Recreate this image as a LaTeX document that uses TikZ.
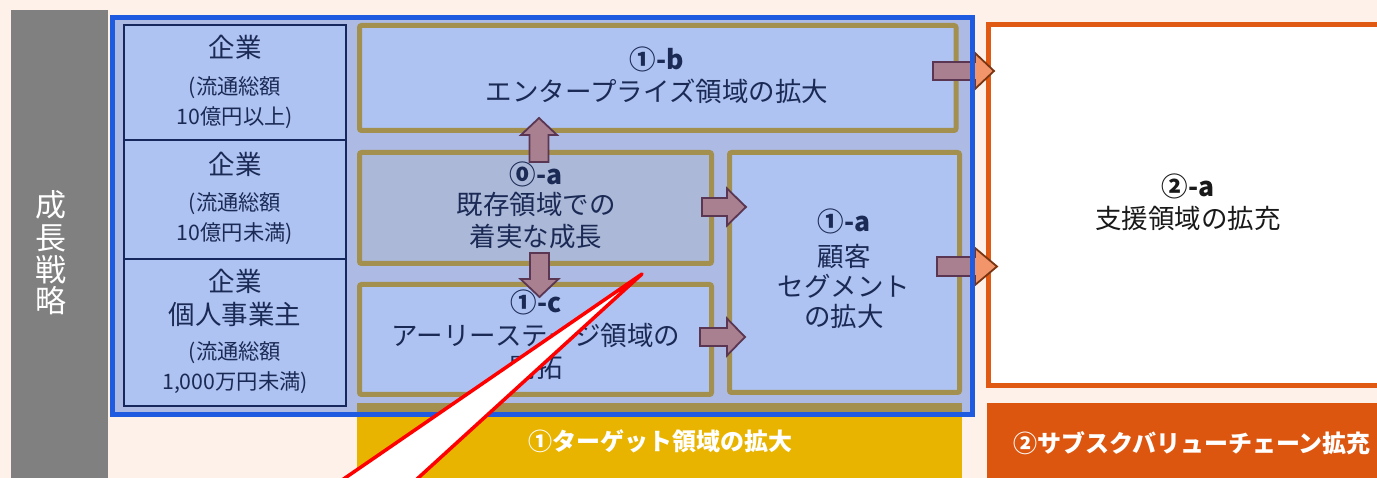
\documentclass[tikz,border=0pt]{standalone}
\usepackage{fontspec}
\setmainfont{Noto Sans CJK JP}
\usetikzlibrary{calc}
\definecolor{bg}{HTML}{FDF1EA}
\definecolor{grayb}{HTML}{808080}
\definecolor{blueb}{HTML}{1F5BE0}
\definecolor{lav}{HTML}{ADBAE3}
\definecolor{boxf}{HTML}{AEC3F2}
\definecolor{boxg}{HTML}{ABB8D8}
\definecolor{olive}{HTML}{A38F4E}
\definecolor{navy}{HTML}{15275C}
\definecolor{txt}{HTML}{1B2A55}
\definecolor{mauvef}{HTML}{A8808F}
\definecolor{mauved}{HTML}{5B3652}
\definecolor{orf}{HTML}{F2956B}
\definecolor{ord}{HTML}{7A3510}
\definecolor{yel}{HTML}{E8B400}
\definecolor{orb}{HTML}{E05A13}
\definecolor{orband}{HTML}{DC5610}
\newcommand\bx[6]{\node[#2, outer sep=0pt, inner sep=0pt, anchor=north west, minimum width=#5pt, minimum height=#6pt] (#1) at (#3,#4) {};}
% horizontal block arrow: style, start, end, shaft half, head half, head length
\newcommand\rarr[6]{\draw[#1] ($(#2)+(0,-#4)$) -- ($(#3)+(-#6,-#4)$) -- ($(#3)+(-#6,-#5)$) -- (#3) -- ($(#3)+(-#6,#5)$) -- ($(#3)+(-#6,#4)$) -- ($(#2)+(0,#4)$) -- cycle;}
% vertical block arrow: style, start, end, shaft half, head half, signed head length
\newcommand\varr[6]{\draw[#1] ($(#2)+(-#4,0)$) -- ($(#3)+(-#4,#6)$) -- ($(#3)+(-#5,#6)$) -- (#3) -- ($(#3)+(#5,#6)$) -- ($(#3)+(#4,#6)$) -- ($(#2)+(#4,0)$) -- cycle;}
\begin{document}
\begin{tikzpicture}[x=1pt,y=-1pt,
  obox/.style={draw=olive, line width=5pt, fill=boxf, rounded corners=2pt},
  lbox/.style={draw=navy, line width=2.5pt, fill=boxf},
  T/.style={anchor=base, text=txt, inner sep=0pt, font=\fontsize{26.5}{30}\selectfont},
  TB/.style={T, font=\fontsize{26.5}{30}\selectfont\bfseries},
  TS/.style={T, font=\fontsize{21.3}{26}\selectfont},
  TW/.style={anchor=base, text=white, inner sep=0pt, font=\fontsize{24}{28}\selectfont\bfseries},
  TV/.style={anchor=base, text=white, inner sep=0pt, font=\fontsize{31}{32}\selectfont},
  marr/.style={fill=mauvef, draw=mauved, line width=1.8pt, line join=miter},
  oarr/.style={fill=orf, draw=ord, line width=1.8pt, line join=miter}]
\useasboundingbox (0,0) rectangle (1377,478);
\clip (0,0) rectangle (1377,478);
\fill[bg] (0,0) rectangle (1377,478);
% grey side bar
\fill[grayb] (11,10) rectangle (108,490);
\foreach \c/\y [count=\i] in {成/217,長/250,戦/282,略/313}
  \node[TV] (v\i) at (51,\y) {\c};
% bands
\fill[yel] (357,403) rectangle (962,490);
\fill[orband] (987,403) rectangle (1390,490);
\node[TW] (band1) at (660,450) {①ターゲット領域の拡大};
\node[TW] (band2) at (1192,452) {②サブスクバリューチェーン拡充};
% orange box
\bx{ob}{draw=orb, line width=5pt, fill=white}{988.5}{24.5}{401.5}{361}
\node[T, text=black!90, font=\fontsize{26.5}{30}\selectfont\bfseries] (ob1) at (1188,197) {②-a};
\node[T, text=black!90] (ob2) at (1188,229) {支援領域の拡充};
% blue group fill
\fill[lav] (112.5,17.5) rectangle (972.5,414.5);
\fill[olive] (357,403) rectangle (962,412);
% left column
\bx{L1}{lbox}{124}{25}{222}{115}
\bx{L2}{lbox}{124}{140}{222}{119}
\bx{L3}{lbox}{124}{259}{222}{147}
\node[T] (l11) at (235,58) {企業};
\node[TS] (l12) at (235,95) {(流通総額};
\node[TS] (l13) at (235,125) {10億円以上)};
\node[T] (l21) at (235,175) {企業};
\node[TS] (l22) at (235,211) {(流通総額};
\node[TS] (l23) at (235,241) {10億円未満)};
\node[T] (l31) at (235,292) {企業};
\node[T] (l32) at (235,325) {個人事業主};
\node[TS] (l33) at (235,360) {(流通総額};
\node[TS] (l34) at (235,390) {1,000万円未満)};
% olive boxes
\bx{nb}{obox}{359.5}{25.5}{596.5}{105}
\bx{n0}{obox, fill=boxg}{359.5}{152.5}{352}{111}
\bx{nc}{obox}{359.5}{284.5}{352}{110}
\bx{na}{obox}{729.5}{152.5}{230}{240}
\node[TB] (nb1) at (657,70) {①-b};
\node[T] (nb2) at (657,102) {エンタープライズ領域の拡大};
\node[TB] (n01) at (536,185) {⓪-a};
\node[T] (n02) at (536,215) {既存領域での};
\node[T] (n03) at (536,247) {着実な成長};
\node[TB] (nc1) at (536,313) {①-c};
\node[T] (nc2) at (536,346) {アーリーステージ領域の};
\node[T] (nc3) at (536,378) {開拓};
\node[TB] (na1) at (844,232) {①-a};
\node[T] (na2) at (844,267) {顧客};
\node[T] (na3) at (844,297) {セグメント};
\node[T] (na4) at (844,327) {の拡大};
% arrows inside
\coordinate (a1s) at (539,162); \coordinate (a1e) at (539,118);
\coordinate (a2s) at (539.5,253); \coordinate (a2e) at (539.5,297);
\coordinate (a3s) at (702,207); \coordinate (a3e) at (746,207);
\coordinate (a4s) at (700,337); \coordinate (a4e) at (745,337);
\varr{marr}{a1s}{a1e}{9.5}{18}{17}
\varr{marr}{a2s}{a2e}{9.5}{19}{-18}
\rarr{marr}{a3s}{a3e}{9}{18.5}{19}
\rarr{marr}{a4s}{a4e}{9}{18.5}{18}
% arrows to the orange box
\coordinate (a5s) at (933,71); \coordinate (a5e) at (994,71);
\coordinate (a6s) at (937,266.5); \coordinate (a6e) at (997,266.5);
\rarr{oarr}{a5s}{a5e}{9}{18}{19}
\rarr{oarr}{a6s}{a6e}{9.5}{18.5}{22}
\begin{scope}
  \clip (112.5,17.5) rectangle (972.5,414.5);
  \rarr{marr}{a5s}{a5e}{9}{18}{19}
  \rarr{marr}{a6s}{a6e}{9.5}{18.5}{22}
\end{scope}
% blue border
\bx{grp}{draw=blueb, line width=4.5pt}{112.5}{17.5}{860}{397}
% callout
\coordinate (ct) at (642,274);
\coordinate (cl) at (313,500);
\coordinate (cr) at (394,500);
\draw[red, line width=3.5pt, fill=white, line join=round] (cl) -- (ct) -- (cr);
\end{tikzpicture}
\end{document}
